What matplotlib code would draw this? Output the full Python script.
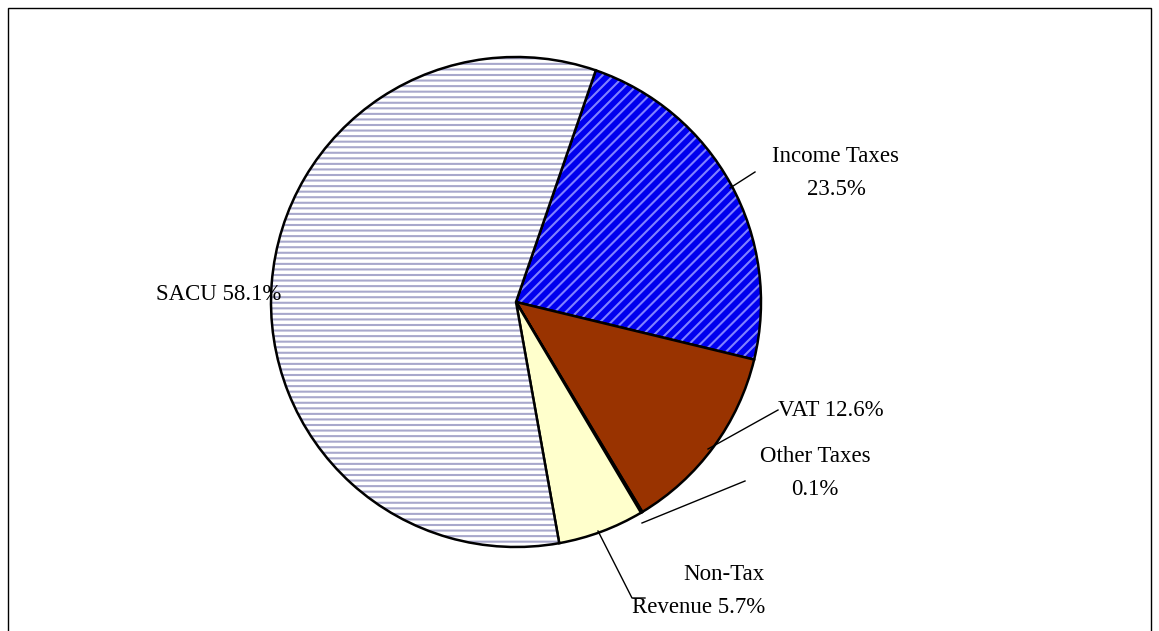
import matplotlib.pyplot as plt
from matplotlib.patches import Rectangle

labels = ['Income Taxes', 'VAT', 'Other Taxes', 'Non-Tax Revenue', 'SACU']
shares = [23.5, 12.6, 0.1, 5.7, 58.1]
faces = ['#0000ee', '#993300', '#ffffff', '#ffffcc', '#ffffff']
hatches = ['///', None, None, None, '---']
hatch_cols = ['#8080ff', None, None, None, '#a8a8cc']

plt.rcParams['font.family'] = ['Liberation Serif', 'DejaVu Serif']
plt.rcParams['hatch.linewidth'] = 1.5

fig = plt.figure(figsize=(11.59, 6.31), dpi=100)
ax = fig.add_axes([0, 0, 1, 1])
ax.set_xlim(0, 1159)
ax.set_ylim(0, 631)
ax.set_aspect('equal')
ax.axis('off')

ax.add_patch(Rectangle((8, -5), 1143, 628, fill=False, lw=1, ec='black'))

wedges, _ = ax.pie(shares, startangle=71, counterclock=False, center=(516, 329),
                   radius=245, colors=faces,
                   wedgeprops=dict(edgecolor='black', linewidth=1.8))
for w, h, hc in zip(wedges, hatches, hatch_cols):
    if h:
        w.set_hatch(h)
        w._hatch_color = plt.matplotlib.colors.to_rgba(hc)
ax.set_xlim(0, 1159)
ax.set_ylim(0, 631)

fs = 16.5
kw = dict(fontsize=fs, color='black')
ax.text(836, 458, 'Income Taxes\n23.5%', ha='center', va='center', linespacing=1.75, **kw)
ax.plot([755, 730], [459, 443], color='black', lw=1)
ax.text(778, 221, 'VAT 12.6%', ha='left', va='center', **kw)
ax.plot([778, 708], [221, 182], color='black', lw=1)
ax.text(815, 158, 'Other Taxes\n0.1%', ha='center', va='center', linespacing=1.75, **kw)
ax.plot([745, 642], [150, 108], color='black', lw=1)
ax.text(765, 40, 'Non-Tax\nRevenue 5.7%', ha='right', va='center', linespacing=1.75, multialignment='right', **kw)
ax.plot([598, 632, 645], [100, 33, 33], color='black', lw=1)
ax.text(281, 336, 'SACU 58.1%', ha='right', va='center', **kw)

fig.savefig('out.png', dpi=100)
